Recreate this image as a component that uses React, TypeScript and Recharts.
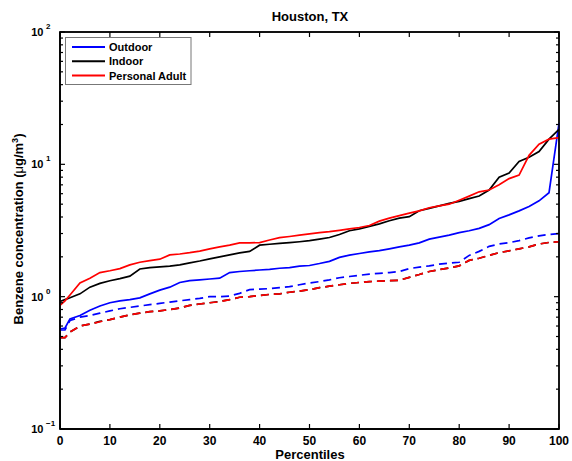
import { LineChart, Line, XAxis, YAxis, ReferenceArea } from "recharts";

const percentiles = [
  0, 1, 2, 4, 6, 8, 10, 12, 14, 16, 18, 20, 22, 24, 26, 28, 30, 32, 34, 36, 38, 40, 42, 44, 46, 48, 50,
  52, 54, 56, 58, 60, 62, 64, 66, 68, 70, 72, 74, 76, 78, 80, 82, 84, 86, 88, 90, 92, 94, 96, 98, 100,
];

// solid lines
const outdoor = [
  0.57, 0.58, 0.68, 0.72, 0.79, 0.85, 0.9, 0.93, 0.95, 0.98, 1.05, 1.12, 1.18, 1.28, 1.32, 1.34, 1.36,
  1.38, 1.52, 1.55, 1.57, 1.59, 1.61, 1.64, 1.66, 1.7, 1.72, 1.78, 1.85, 1.98, 2.06, 2.12, 2.18, 2.23,
  2.3, 2.38, 2.45, 2.55, 2.72, 2.82, 2.92, 3.05, 3.15, 3.28, 3.5, 3.9, 4.15, 4.45, 4.8, 5.3, 6.1, 20.4,
];
const indoor = [
  0.92, 0.95, 0.98, 1.05, 1.18, 1.26, 1.32, 1.37, 1.43, 1.62, 1.66, 1.68, 1.7, 1.74, 1.8, 1.86, 1.93,
  2.0, 2.07, 2.14, 2.2, 2.45, 2.49, 2.53, 2.56, 2.6, 2.65, 2.72, 2.8, 2.95, 3.15, 3.25, 3.4, 3.55, 3.75,
  3.92, 4.02, 4.46, 4.65, 4.85, 5.07, 5.25, 5.5, 5.76, 6.4, 8.0, 8.6, 10.5, 11.3, 12.5, 15.5, 18.4,
];
const personalAdult = [
  0.86, 0.93, 1.03, 1.27, 1.38, 1.52, 1.57, 1.63, 1.74, 1.82, 1.87, 1.92, 2.07, 2.1, 2.15, 2.21, 2.3,
  2.38, 2.45, 2.55, 2.55, 2.56, 2.68, 2.79, 2.85, 2.92, 2.98, 3.05, 3.1, 3.17, 3.25, 3.33, 3.45, 3.72,
  3.92, 4.1, 4.28, 4.45, 4.7, 4.85, 5.0, 5.35, 5.75, 6.2, 6.4, 7.0, 7.8, 8.3, 11.7, 14.2, 15.5, 15.9,
];

// dashed lines
const outdoorDashed = [
  0.56, 0.56, 0.66, 0.7, 0.72, 0.75, 0.78, 0.81, 0.83, 0.85, 0.87, 0.89, 0.91, 0.93, 0.95, 0.97, 1.0,
  1.0, 1.01, 1.06, 1.13, 1.14, 1.15, 1.17, 1.19, 1.23, 1.27, 1.3, 1.34, 1.39, 1.42, 1.45, 1.48, 1.5,
  1.52, 1.55, 1.63, 1.67, 1.71, 1.76, 1.79, 1.82, 2.05, 2.2, 2.4, 2.5, 2.56, 2.65, 2.78, 2.88, 2.95, 3.0,
];
const indoorDashed = [
  0.49, 0.49, 0.54, 0.6, 0.62, 0.65, 0.67, 0.7, 0.73, 0.75, 0.77, 0.78, 0.8, 0.82, 0.86, 0.88, 0.9,
  0.92, 0.95, 0.99, 1.0, 1.02, 1.04, 1.05, 1.08, 1.1, 1.13, 1.17, 1.2, 1.23, 1.26, 1.28, 1.3, 1.31,
  1.32, 1.33, 1.4, 1.47, 1.55, 1.6, 1.65, 1.71, 1.88, 1.95, 2.05, 2.15, 2.22, 2.3, 2.38, 2.5, 2.57, 2.6,
];
const personalDashed = [
  0.49, 0.49, 0.54, 0.6, 0.62, 0.646, 0.67, 0.7, 0.73, 0.75, 0.77, 0.78, 0.8, 0.82, 0.86, 0.88, 0.9,
  0.915, 0.95, 0.99, 1.0, 1.02, 1.04, 1.05, 1.08, 1.1, 1.13, 1.17, 1.2, 1.23, 1.26, 1.28, 1.3, 1.31,
  1.32, 1.33, 1.4, 1.47, 1.55, 1.6, 1.65, 1.71, 1.88, 1.95, 2.05, 2.15, 2.22, 2.3, 2.38, 2.5, 2.57, 2.6,
];

const xTicks = [0, 10, 20, 30, 40, 50, 60, 70, 80, 90, 100];
const yTicks = [
  0.1, 0.2, 0.3, 0.4, 0.5, 0.6, 0.7, 0.8, 0.9, 1, 2, 3, 4, 5, 6, 7, 8, 9, 10, 20, 30, 40, 50, 60, 70,
  80, 90, 100,
];

const legendItems = [
  { name: "Outdoor", color: "#0000ff" },
  { name: "Indoor", color: "#000000" },
  { name: "Personal Adult", color: "#ff0000" },
];

const data = percentiles.map((p, i) => ({
  p,
  outdoor: outdoor[i],
  indoor: indoor[i],
  personalAdult: personalAdult[i],
  outdoorDashed: outdoorDashed[i],
  indoorDashed: indoorDashed[i],
  personalDashed: personalDashed[i],
}));

const FONT = '"Liberation Sans", Arial, Helvetica, sans-serif';

// plot box (chart size minus margins and axis sizes below)
const W = 572;
const H = 461;
const BOX = { left: 60, top: 32, right: W - 13, bottom: H - 32 };

const isMajor = (v: number) => Math.abs(Math.log10(v) - Math.round(Math.log10(v))) < 1e-6;

function BottomTick({ x, y, payload }: any) {
  return (
    <g>
      <line x1={x} x2={x} y1={y} y2={y - 5} stroke="#000" strokeWidth={1.2} />
      <text x={x} y={y + 16} textAnchor="middle" fontSize={12} fontWeight="bold" fontFamily={FONT}>
        {payload.value}
      </text>
    </g>
  );
}

function LeftTick({ x, y, payload }: any) {
  const major = isMajor(payload.value);
  const exp = Math.round(Math.log10(payload.value));
  return (
    <g>
      <line x1={x} x2={x + (major ? 5 : 3)} y1={y} y2={y} stroke="#000" strokeWidth={1.2} />
      {major && (
        <g fontFamily={FONT} fontWeight="bold">
          <text x={x - 16.5} y={y + 4} textAnchor="end" fontSize={11}>
            10
          </text>
          <text x={x - 14} y={y - 3} fontSize={8}>
            {exp < 0 ? "\u2212" + Math.abs(exp) : exp}
          </text>
        </g>
      )}
    </g>
  );
}

// inward ticks on the top and right edges of the MATLAB-style box
function BoxTicks() {
  const w = BOX.right - BOX.left;
  const h = BOX.bottom - BOX.top;
  const xPos = (t: number) => BOX.left + (t / 100) * w;
  const yPos = (v: number) => BOX.top + ((2 - Math.log10(v)) / 3) * h;
  return (
    <g>
      <rect
        x={BOX.left}
        y={BOX.top}
        width={w}
        height={h}
        fill="none"
        stroke="#000000"
        strokeWidth={1.4}
      />
      {xTicks.map((t) => (
        <line
          key={"tx" + t}
          x1={xPos(t)}
          x2={xPos(t)}
          y1={BOX.top}
          y2={BOX.top + 5}
          stroke="#000000"
          strokeWidth={1.2}
        />
      ))}
      {yTicks.map((v) => (
        <line
          key={"ty" + v}
          x1={BOX.right}
          x2={BOX.right - (isMajor(v) ? 5 : 3)}
          y1={yPos(v)}
          y2={yPos(v)}
          stroke="#000000"
          strokeWidth={1.2}
        />
      ))}
    </g>
  );
}

export default function App() {
  const lineProps = { type: "linear" as const, dot: false, isAnimationActive: false, strokeWidth: 1.7 };
  return (
    <div style={{ position: "fixed", left: 0, top: 0, width: W, height: H, background: "#fff" }}>
      <LineChart width={W} height={H} data={data} margin={{ top: 32, right: 13, bottom: 0, left: 0 }}>
        <XAxis
          dataKey="p"
          type="number"
          domain={[0, 100]}
          ticks={xTicks}
          interval={0}
          height={32}
          stroke="#000"
          strokeWidth={1.4}
          tickSize={0}
          tickMargin={0}
          tick={BottomTick}
          tickLine={false}
        />
        <YAxis
          scale="log"
          type="number"
          domain={[0.1, 100]}
          allowDataOverflow
          ticks={yTicks}
          interval={0}
          width={60}
          stroke="#000"
          strokeWidth={1.4}
          tickSize={0}
          tickMargin={0}
          tick={LeftTick}
          tickLine={false}
        />
        <ReferenceArea
          x1={0}
          x2={100}
          y1={0.1}
          y2={100}
          fill="none"
          fillOpacity={0}
          stroke="#000"
          strokeWidth={1.4}
          ifOverflow="visible"
        />
        <Line {...lineProps} dataKey="outdoor" stroke="#0000ff" />
        <Line {...lineProps} dataKey="indoor" stroke="#000000" />
        <Line {...lineProps} dataKey="personalAdult" stroke="#ff0000" />
        <Line {...lineProps} dataKey="outdoorDashed" stroke="#0000ff" strokeDasharray="8 5" />
        <Line {...lineProps} dataKey="indoorDashed" stroke="#000000" strokeDasharray="8 5" />
        <Line {...lineProps} dataKey="personalDashed" stroke="#ff0000" strokeDasharray="8 5" />
      </LineChart>
      <svg
        width={W}
        height={H}
        style={{ position: "absolute", left: 0, top: 0, pointerEvents: "none" }}
        fontFamily={FONT}
        fontWeight="bold"
      >
        <BoxTicks />
        <text x={310} y={21} textAnchor="middle" fontSize={13}>
          Houston, TX
        </text>
        <text x={310} y={459} textAnchor="middle" fontSize={13}>
          Percentiles
        </text>
        <text transform="rotate(-90)" x={-229} y={23} textAnchor="middle" fontSize={13}>
          Benzene concentration (<tspan fontWeight="normal">μ</tspan>g/m
          <tspan dy={-5} fontSize={9}>
            3
          </tspan>
          <tspan dy={5}>)</tspan>
        </text>
        <rect x={65.5} y={37.5} width={125.5} height={47} fill="#fff" stroke="#777" />
        {legendItems.map((item, i) => (
          <g key={item.name}>
            <line x1={72} x2={105} y1={47 + i * 14.3} y2={47 + i * 14.3} stroke={item.color} strokeWidth={2} />
            <text x={109} y={51 + i * 14.3} fontSize={11}>
              {item.name}
            </text>
          </g>
        ))}
      </svg>
    </div>
  );
}
